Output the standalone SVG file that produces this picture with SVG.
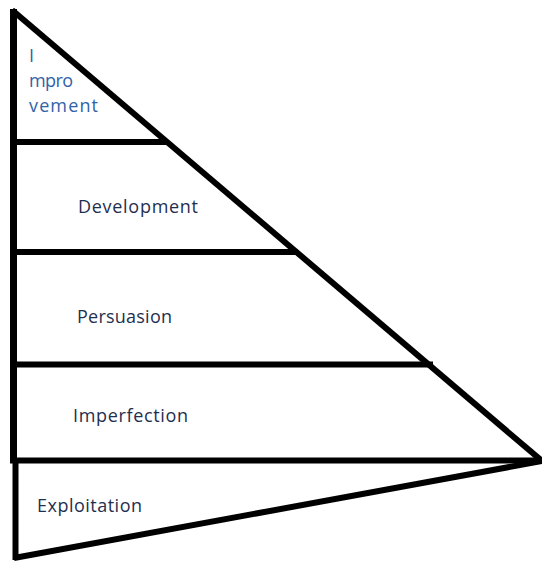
<svg xmlns="http://www.w3.org/2000/svg" width="542" height="562" viewBox="0 0 542 562">
<style>
.ln{stroke:#000;stroke-width:6;fill:none;stroke-linecap:butt}
.t{font-family:"Open Sans","Liberation Sans",sans-serif;font-size:18px;fill:#1f2f4f}
.b{fill:#2f63a8}
</style>
<rect width="542" height="562" fill="#fff"/>
<g id="outline">
<line class="ln" x1="13.5" y1="9" x2="13.5" y2="463" style="stroke-width:7"/>
<line class="ln" x1="15.5" y1="458" x2="15.5" y2="560"/>
<line class="ln" x1="12" y1="10" x2="542" y2="461"/>
<line class="ln" x1="542" y1="461" x2="14" y2="558"/>
<line class="ln" x1="10" y1="142" x2="166" y2="142"/>
<line class="ln" x1="10" y1="252" x2="298" y2="252"/>
<line class="ln" x1="10" y1="364.5" x2="433" y2="364.5"/>
<line class="ln" x1="10" y1="460.5" x2="541" y2="460.5"/>
</g>
<g id="improvement"><text class="t b" x="29" y="62">I</text><text class="t b" x="29" y="87" textLength="44">mpro</text><text class="t b" x="29" y="112" textLength="69">vement</text></g>
<g id="development"><text class="t" x="78" y="213" textLength="120">Development</text></g>
<g id="persuasion"><text class="t" x="77" y="323" textLength="95">Persuasion</text></g>
<g id="imperfection"><text class="t" x="73" y="422" textLength="115">Imperfection</text></g>
<g id="exploitation"><text class="t" x="37" y="512" textLength="105">Exploitation</text></g>
</svg>
